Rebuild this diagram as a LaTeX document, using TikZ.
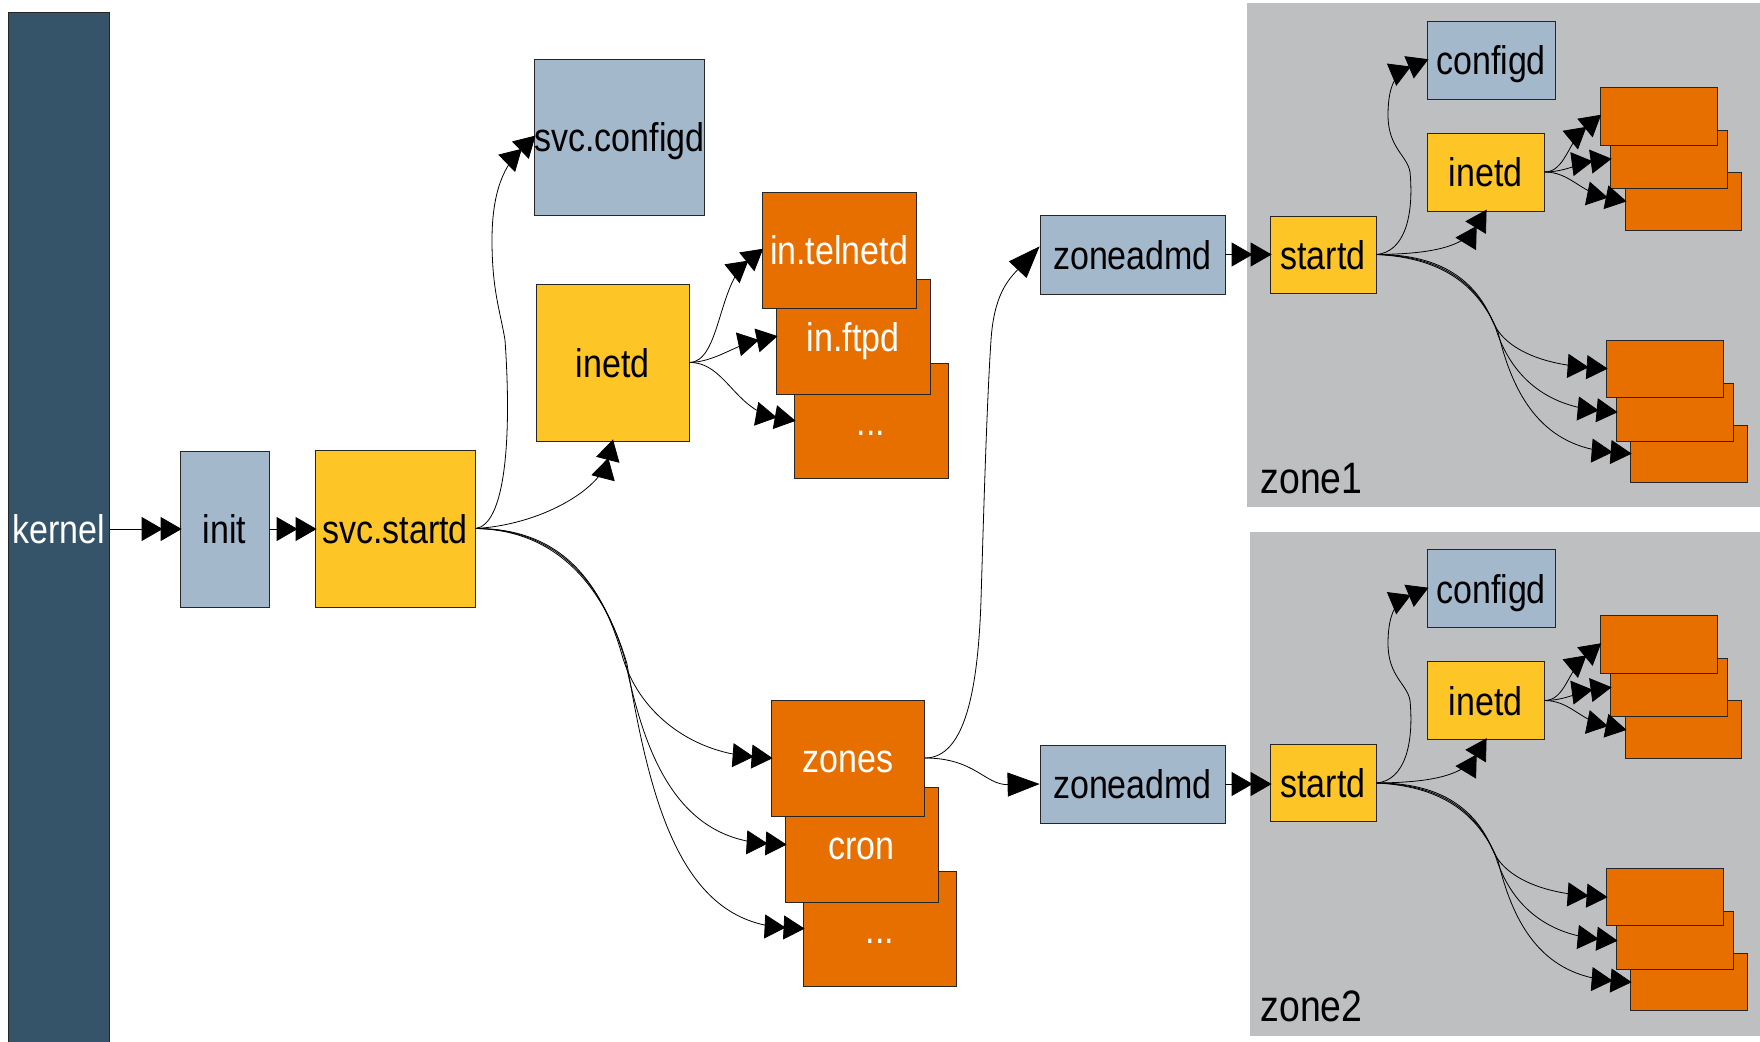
\documentclass[tikz,border=0pt]{standalone}
\usepackage{fontspec}
\setmainfont{Liberation Sans}[FakeStretch=0.85]
\usetikzlibrary{arrows.meta}
\definecolor{kernelc}{HTML}{35546A}
\definecolor{bluec}{HTML}{A4B8CC}
\definecolor{yellowc}{HTML}{FDC526}
\definecolor{orangec}{HTML}{E66F00}
\definecolor{zonec}{HTML}{BEBFC1}
\begin{document}
\begin{tikzpicture}[x=1pt,y=-1pt,
  font=\fontsize{40}{48}\selectfont,
  box/.style={draw=black!85, line width=0.8pt, inner sep=0pt, align=center, text height=29pt, text depth=0pt},
  bluebox/.style={box, fill=bluec},
  yelbox/.style={box, fill=yellowc},
  orgbox/.style={box, fill=orangec, text=white},
  sz/.style 2 args={minimum width=#1pt, minimum height=#2pt},
  conn/.style={draw=black, line width=0.8pt},
  dbl/.style={conn, -{Triangle[length=21pt,width=24pt,sep=-2pt]Triangle[length=21pt,width=24pt,sep=-2pt]}},
  sgl/.style={conn, -{Triangle[length=32pt,width=24pt]}},
]
\useasboundingbox (0,0) rectangle (1760,1041);
\fill[white] (0,0) rectangle (1760,1041);

% zones
\foreach \z/\dy/\zx in {1/0/1247, 2/528.5/1250} {
\begin{scope}[shift={(0,\dy)}]
  \fill[zonec] (\zx,3) rectangle (1765,507);
  \node[anchor=base west, font=\fontsize{44}{50}\selectfont] (zl\z) at (1257,493) {zone\z};
  \node[yelbox, sz={106}{77}] (zs\z) at (1323,254.5) {startd};
  \node[bluebox, sz={128}{78}] (zc\z) at (1491,60) {configd};
  \node[yelbox, sz={117}{78}] (zi\z) at (1485.5,172) {inetd};
  \node[orgbox, sz={116}{58}] (zC\z) at (1683,201) {};
  \node[orgbox, sz={117}{58}] (zB\z) at (1668.5,159) {};
  \node[orgbox, sz={117}{58}] (zA\z) at (1658.5,116) {};
  \node[orgbox, sz={117}{57}] (zF\z) at (1688.5,453.5) {};
  \node[orgbox, sz={117}{58}] (zE\z) at (1674.5,412) {};
  \node[orgbox, sz={117}{57}] (zD\z) at (1664.5,368.5) {};
  \draw[dbl] (zs\z.east) .. controls (1405,252) and (1414,215) .. (1410,172) .. controls (1407,155) and (1388,148) .. (1388,115) .. controls (1388,82) and (1398,72) .. (zc\z.west);
  \draw[dbl] (zs\z.east) .. controls (1420,254) and (1462,250) .. (zi\z.south);
  \draw[dbl] (zi\z.east) .. controls (1565,172) and (1568,142) .. (zA\z.west);
  \draw[dbl] (zi\z.east) .. controls (1565,172) and (1580,163) .. (zB\z.west);
  \draw[dbl] (zi\z.east) .. controls (1570,172) and (1580,192) .. (zC\z.west);
  \draw[dbl] (zs\z.east) .. controls (1442,254) and (1476,282) .. (1492,320) .. controls (1503,348) and (1540,364) .. (zD\z.west);
  \draw[dbl] (zs\z.east) .. controls (1445,256) and (1478,286) .. (1495,326) .. controls (1508,370) and (1540,405) .. (zE\z.west);
  \draw[dbl] (zs\z.east) .. controls (1448,258) and (1480,290) .. (1498,332) .. controls (1514,400) and (1545,447) .. (zF\z.west);
\end{scope}
}

% main nodes
\node[box, fill=kernelc, text=white, sz={101.5}{1033}] (kernel) at (58.75,528.5) {kernel};
\node[bluebox, sz={89}{156}] (init) at (224.5,529) {init};
\node[yelbox, sz={160}{157}] (startd) at (395,528.5) {svc.startd};
\node[bluebox, sz={167}{156}] (configd) at (619.5,137) {svc.configd};
\node[yelbox, sz={153}{157}] (inetd) at (612.5,362.5) {inetd};
\node[orgbox, sz={154}{115}] (idots) at (871,420.5) {...};
\node[orgbox, sz={154}{115}] (ftpd) at (853,336.5) {in.ftpd};
\node[orgbox, sz={154}{116}] (telnetd) at (839,250) {in.telnetd};
\node[orgbox, sz={153.5}{115}] (sdots) at (879.75,928.5) {...};
\node[orgbox, sz={153}{115}] (cron) at (861.5,844.5) {cron};
\node[orgbox, sz={153.5}{116}] (zones) at (847.75,758) {zones};
\node[bluebox, sz={185}{79}] (zu) at (1132.5,254.5) {zoneadmd};
\node[bluebox, sz={185}{78}] (zd) at (1132.5,784) {zoneadmd};

% main connectors
\draw[dbl] (kernel.east |- init.west) -- (init.west);
\draw[dbl] (init.east) -- (init.east -| startd.west);
\draw[dbl] (startd.east) .. controls (505,525) and (512,440) .. (505,340) .. controls (500,310) and (492,290) .. (492,240) .. controls (492,190) and (505,165) .. (configd.west);
\draw[dbl] (startd.east) .. controls (540,525) and (600,490) .. (inetd.south);
\draw[dbl] (startd.east) .. controls (565,528) and (603,588) .. (622,655) .. controls (638,712) and (690,752) .. (zones.west);
\draw[dbl] (startd.east) .. controls (563,529) and (605,590) .. (625,660) .. controls (642,740) and (670,838) .. (cron.west);
\draw[dbl] (startd.east) .. controls (561,530) and (606,592) .. (627,664) .. controls (650,800) and (680,922) .. (sdots.west);
\draw[dbl] (inetd.east) .. controls (720,362) and (718,285) .. (telnetd.west);
\draw[dbl] (inetd.east) .. controls (715,362) and (735,345) .. (ftpd.west);
\draw[dbl] (inetd.east) .. controls (725,362) and (735,410) .. (idots.west);
\draw[sgl] (zones.east) .. controls (965,758) and (978,690) .. (981,600) .. controls (984,500) and (987,400) .. (991,340) .. controls (994,295) and (1008,280) .. (zu.175);
\draw[sgl] (zones.east) .. controls (975,758) and (985,785) .. (zd.west);
\draw[dbl] (zu.east) -- (zu.east -| zs1.west);
\draw[dbl] (zd.east) -- (zd.east -| zs2.west);
\end{tikzpicture}
\end{document}
